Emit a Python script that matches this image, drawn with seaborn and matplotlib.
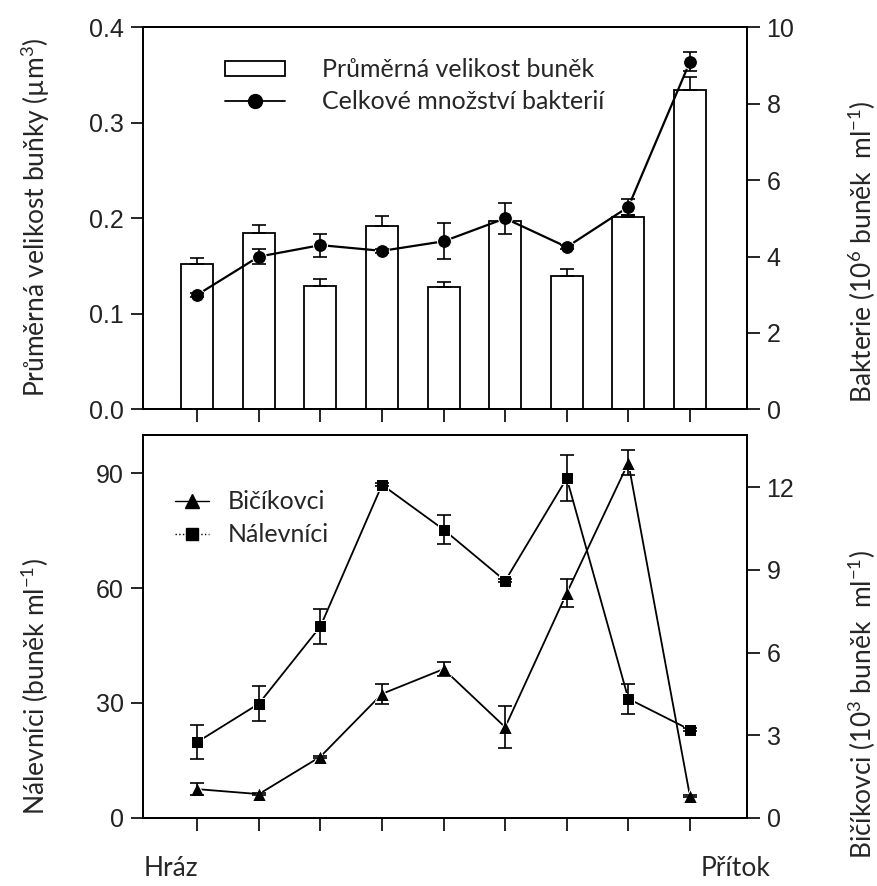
import numpy as np
import pandas as pd
import matplotlib
matplotlib.use("Agg")
import matplotlib.pyplot as plt
import seaborn as sns
from matplotlib.patches import Patch
from matplotlib.lines import Line2D

# ---- data ----
sites = [1, 2, 3, 4, 5, 6, 7, 8, 9]

cell_size = [0.152, 0.185, 0.129, 0.192, 0.128, 0.197, 0.140, 0.201, 0.335]
cell_size_err = [0.006, 0.008, 0.007, 0.010, 0.005, 0.003, 0.007, 0.003, 0.013]

bacteria = [3.0, 4.0, 4.3, 4.15, 4.4, 5.0, 4.25, 5.3, 9.1]
bacteria_err = [0.05, 0.2, 0.3, 0.05, 0.47, 0.4, 0.05, 0.2, 0.25]

ciliates = [19.8, 29.8, 50.0, 87.0, 75.3, 61.9, 88.7, 31.1, 23.0]
ciliates_err = [4.5, 4.5, 4.6, 0.4, 3.8, 0.4, 6.0, 3.9, 0.4]

flagellates = [1.04, 0.86, 2.22, 4.50, 5.40, 3.29, 8.16, 12.89, 0.79]
flagellates_err = [0.22, 0.04, 0.04, 0.35, 0.25, 0.76, 0.5, 0.45, 0.03]

top = pd.DataFrame({"site": sites, "size": cell_size, "bact": bacteria})
bottom = pd.DataFrame({"site": sites, "cil": ciliates, "flag": flagellates})

# ---- style ----
sns.set_theme(style="ticks")
plt.rcParams["font.family"] = ["Lato", "DejaVu Sans"]
plt.rcParams["mathtext.fontset"] = "custom"
plt.rcParams["mathtext.rm"] = "Lato"
plt.rcParams["mathtext.it"] = "Lato"
plt.rcParams["axes.linewidth"] = 1.3
plt.rcParams["xtick.major.width"] = 1.2
plt.rcParams["ytick.major.width"] = 1.2
plt.rcParams["xtick.major.size"] = 9
plt.rcParams["ytick.major.size"] = 9

lab_fs = 19
leg_fs = 18
tick_fs = 18

fig = plt.figure(figsize=(8.78, 8.86), dpi=100)
ax1 = fig.add_axes([0.163, 0.538, 0.688, 0.431])
ax3 = fig.add_axes([0.163, 0.077, 0.688, 0.432])

# ================= TOP PANEL =================
sns.barplot(data=top, x="site", y="size", native_scale=True, width=0.52,
            color="white", edgecolor="black", linewidth=1.3, errorbar=None,
            saturation=1, ax=ax1)
ax1.errorbar(sites, cell_size, yerr=[np.zeros(len(sites)), cell_size_err],
             fmt="none", ecolor="black", elinewidth=1.2, capsize=5, capthick=1.2)
ax1.set_ylim(0, 0.4)
ax1.set_yticks([0.0, 0.1, 0.2, 0.3, 0.4])
ax1.set_yticklabels(["0.0", "0.1", "0.2", "0.3", "0.4"])

ax2 = ax1.twinx()
sns.lineplot(data=top, x="site", y="bact", color="black", marker="o",
             markersize=10, linewidth=1.6, ax=ax2)
ax2.errorbar(sites, bacteria, yerr=bacteria_err, fmt="none", ecolor="black",
             elinewidth=1.2, capsize=5, capthick=1.2)
ax2.set_ylim(0, 10)
ax2.set_yticks([0, 2, 4, 6, 8, 10])

# ================= BOTTOM PANEL =================
sns.lineplot(data=bottom, x="site", y="cil", color="black", marker="s",
             markersize=8.5, linewidth=1.3, ax=ax3)
ax3.errorbar(sites, ciliates, yerr=ciliates_err, fmt="none", ecolor="black",
             elinewidth=1.2, capsize=5, capthick=1.2)
ax3.set_ylim(0, 100)
ax3.set_yticks([0, 30, 60, 90])

ax4 = ax3.twinx()
sns.lineplot(data=bottom, x="site", y="flag", color="black", marker="^",
             markersize=9.5, linewidth=1.3, ax=ax4)
ax4.errorbar(sites, flagellates, yerr=flagellates_err, fmt="none", ecolor="black",
             elinewidth=1.2, capsize=5, capthick=1.2)
ax4.set_ylim(0, 13.9)
ax4.set_yticks([0, 3, 6, 9, 12])

for ax in (ax1, ax2, ax3, ax4):
    ax.set_xlim(0.12, 9.93)
    ax.set_xticks(sites)
    ax.set_xticklabels([])
    ax.set_xlabel("")
    ax.set_ylabel("")
    ax.tick_params(direction="out", colors="black", labelsize=tick_fs,
                   labelcolor="#222222", pad=5)
    for t in ax.get_yticklabels():
        t.set_fontfamily("Liberation Sans")
    for s in ax.spines.values():
        s.set_visible(True)
        s.set_color("black")

# ---- legends ----
h_top = [Patch(facecolor="white", edgecolor="black", linewidth=1.3),
         Line2D([], [], color="black", marker="o", markersize=10, linewidth=1.3)]
ax2.legend(h_top, ["Průměrná velikost buněk", "Celkové množství bakterií"],
           loc="upper left", bbox_to_anchor=(0.135, 0.92), frameon=False,
           fontsize=leg_fs, handlelength=2.4, handleheight=0.55,
           handletextpad=1.5, labelspacing=0.35, borderpad=0, borderaxespad=0)

h_bot = [Line2D([], [], color="black", marker="^", markersize=9.5, linewidth=1.0),
         Line2D([], [], color="black", marker="s", markersize=8.5, linewidth=1.0,
                linestyle=":")]
leg = ax4.legend(h_bot, ["Bičíkovci", "Nálevníci"], loc="upper left",
                 bbox_to_anchor=(0.04, 0.875), frameon=True, fancybox=False,
                 fontsize=leg_fs, handlelength=1.35, handletextpad=0.75,
                 labelspacing=0.4, borderpad=0.3, borderaxespad=0)
leg.get_frame().set_facecolor("white")
leg.get_frame().set_edgecolor("none")
leg.get_frame().set_alpha(1)

# ---- axis titles ----
fig.text(0.040, 0.552, "Průměrná velikost buňky (µm$^3$)", rotation=90,
         ha="center", va="bottom", fontsize=lab_fs)
fig.text(0.982, 0.545, "Bakterie (10$^6$ buněk  ml$^{-1}$)", rotation=90,
         ha="center", va="bottom", fontsize=lab_fs)
fig.text(0.040, 0.080, "Nálevníci (buněk ml$^{-1}$)", rotation=90,
         ha="center", va="bottom", fontsize=lab_fs)
fig.text(0.982, 0.030, "Bičíkovci (10$^3$ buněk  ml$^{-1}$)", rotation=90,
         ha="center", va="bottom", fontsize=lab_fs)

fig.text(0.195, 0.020, "Hráz", ha="center", va="center", fontsize=lab_fs)
fig.text(0.838, 0.020, "Přítok", ha="center", va="center", fontsize=lab_fs)

fig.savefig("out.png", dpi=100)
